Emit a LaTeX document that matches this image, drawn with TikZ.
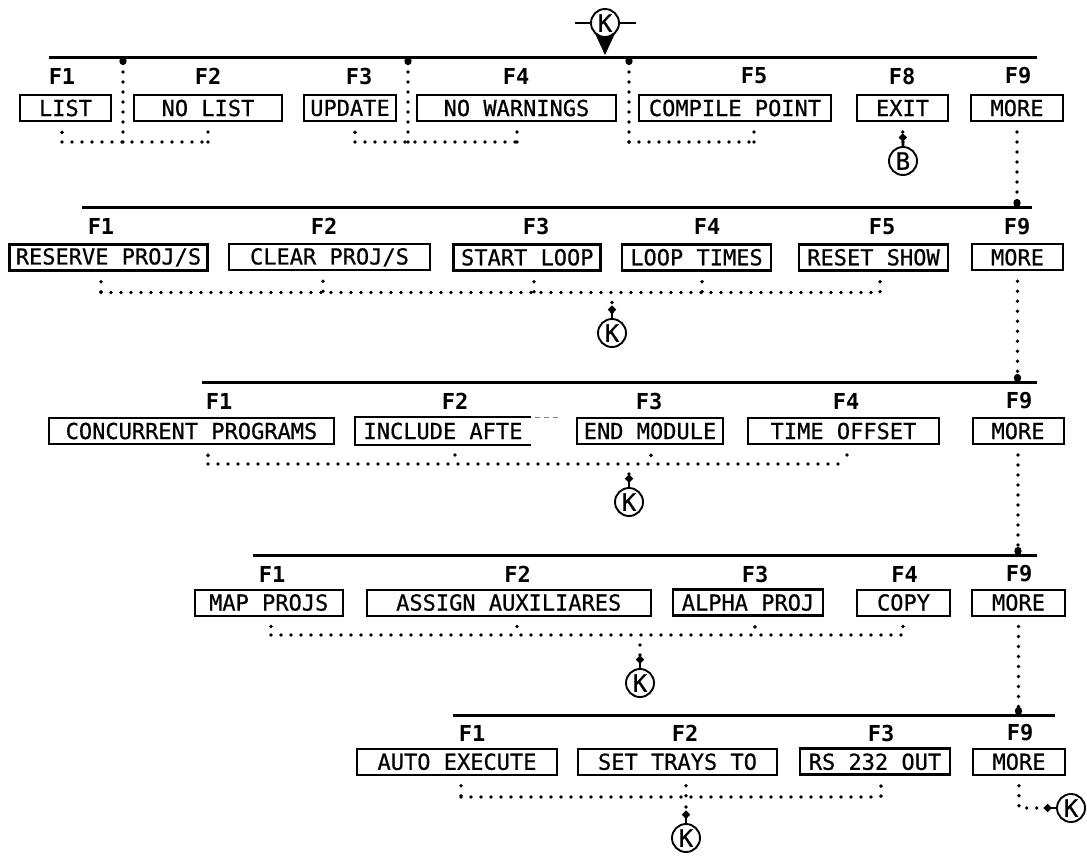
\documentclass[tikz,border=0pt]{standalone}
\usepackage{fontspec}
\newfontfamily\plotfont{DejaVu Sans Mono}
\newfontfamily\plotfontb[FakeBold=0.6]{DejaVu Sans Mono}
\usetikzlibrary{arrows.meta,calc}
\begin{document}
\begin{tikzpicture}[x=1pt,y=-1pt,
  bar/.style={line width=3pt},
  kbox/.style={draw, line width=2pt, minimum height=26pt, inner sep=0pt, font=\plotfontb\fontsize{22}{22}\selectfont},
  kboxb/.style={kbox, line width=2.7pt},
  boxline/.style={line width=2.7pt},
  flabel/.style={font=\plotfont\bfseries\fontsize{22}{22}\selectfont, inner sep=0pt},
  dots/.style={line width=3.8pt, line cap=round, dash pattern=on 0pt off 10pt},
  drop/.style={dots, shorten <=10pt},
  blob/.style={-{Circle[length=8pt,width=7pt]}},
  tack/.style={-{Circle[length=7pt,width=7pt]Rectangle[length=5pt,width=2.4pt]}},
  kc/.style={circle, draw, line width=1.9pt, minimum size=28pt, inner sep=0pt, fill=white, font=\plotfontb\fontsize{24}{24}\selectfont},
]
\useasboundingbox (0,0) rectangle (1087,855);
\fill[white] (0,0) rectangle (1087,855);

% ---------------- Row 1 ----------------
\coordinate (L1a) at (49,57); \coordinate (L1b) at (1037,57);
\draw[bar] (L1a) -- (L1b);
\fill (592,27) -- (605,55) -- (618,27) -- cycle;
\node[kc] (ktop) at (605,23) {K};
\draw[line width=2.2pt] (ktop.west) -- ++(-15,0);
\draw[line width=2.2pt] (ktop.east) -- ++(16,0);

\node[flabel] (f11) at (62,76) {F1};
\node[flabel] (f12) at (208,76) {F2};
\node[flabel] (f13) at (359,76) {F3};
\node[flabel] (f14) at (516,76) {F4};
\node[flabel] (f15) at (754,76) {F5};
\node[flabel] (f18) at (902,76) {F8};
\node[flabel] (f19) at (1018,76) {F9};

\node[kboxb, minimum width=91pt] (list) at (65.5,108) {LIST};
\node[kbox, minimum width=148pt] (nolist) at (208,108) {NO LIST};
\node[kboxb, minimum width=92pt] (update) at (350,108) {UPDATE};
\node[kbox, minimum width=199pt] (nowarn) at (516.5,108) {NO WARNINGS};
\node[kbox, minimum width=192pt] (compile) at (735,108) {COMPILE POINT};
\node[kbox, minimum width=91pt] (exit) at (902.5,108) {EXIT};
\node[kbox, minimum width=92pt] (more1) at (1017,108) {MORE};

\coordinate (j11) at (62,142); \coordinate (j12) at (208,142); \coordinate (j1v) at (123,142);
\coordinate (j13) at (355,142); \coordinate (j14) at (517,142); \coordinate (j1w) at (408,142);
\coordinate (j15) at (754,142); \coordinate (j1x) at (629,142);
\draw[drop] (list.south -| j11) -- (j11);
\draw[drop] (nolist.south -| j12) -- (j12);
\draw[dots] (j11) -- (j12);
\draw[dots, blob] (j1v) -- (j1v |- L1a);
\draw[drop] (update.south -| j13) -- (j13);
\draw[drop] (nowarn.south -| j14) -- (j14);
\draw[dots] (j13) -- (j14);
\draw[dots, blob] (j1w) -- (j1w |- L1a);
\draw[drop] (compile.south -| j15) -- (j15);
\draw[dots] (j1x) -- (j15);
\draw[dots, blob] (j1x) -- (j1x |- L1a);

\node[kc] (kb) at (903,161) {B};
\draw[drop, tack] (exit.south) -- (kb.north);

% ---------------- Row 2 ----------------
\coordinate (L2a) at (82,207); \coordinate (L2b) at (1032,207);
\draw[bar] (L2a) -- (L2b);
\draw[drop, blob] (more1.south) -- (more1.south |- L2a);

\node[flabel] (f21) at (101,226.5) {F1};
\node[flabel] (f22) at (324,226.5) {F2};
\node[flabel] (f23) at (536,226.5) {F3};
\node[flabel] (f24) at (707,226.5) {F4};
\node[flabel] (f25) at (882,226.5) {F5};
\node[flabel] (f29) at (1017,226.5) {F9};

\node[kboxb, minimum width=198pt] (rsv) at (108.5,257.3) {RESERVE PROJ/S};
\node[kbox, minimum width=201pt] (clr) at (329.5,257.3) {CLEAR PROJ/S};
\node[kboxb, minimum width=147pt] (start) at (527.3,257.3) {START LOOP};
\node[kboxb, minimum width=149pt] (loopt) at (696.5,257.3) {LOOP TIMES};
\node[kboxb, minimum width=149pt] (reset) at (873.5,257.3) {RESET SHOW};
\node[kbox, minimum width=91pt] (more2) at (1017.5,257.3) {MORE};

\coordinate (j21) at (101,292.5); \coordinate (j22) at (323,292.5); \coordinate (j23) at (534,292.5);
\coordinate (j24) at (702,292.5); \coordinate (j25) at (880,292.5); \coordinate (j2k) at (612,292.5);
\draw[drop] (rsv.south -| j21) -- (j21);
\draw[drop] (clr.south -| j22) -- (j22);
\draw[drop] (start.south -| j23) -- (j23);
\draw[drop] (loopt.south -| j24) -- (j24);
\draw[drop] (reset.south -| j25) -- (j25);
\draw[dots] (j21) -- (j25);
\node[kc] (k2) at (612,333) {K};
\draw[drop, tack] (j2k) -- (k2.north);

% ---------------- Row 3 ----------------
\coordinate (L3a) at (201.6,382); \coordinate (L3b) at (1037,382);
\draw[bar] (L3a) -- (L3b);
\draw[drop, blob] (more2.south) -- (more2.south |- L3a);

\node[flabel] (f31) at (219,401) {F1};
\node[flabel] (f32) at (455,401) {F2};
\node[flabel] (f33) at (649,401) {F3};
\node[flabel] (f34) at (846,401) {F4};
\node[flabel] (f39) at (1019,401) {F9};

\node[kboxb, minimum width=285pt] (conc) at (191.5,431) {CONCURRENT PROGRAMS};
\node[kbox, draw=none, minimum width=174pt] (incl) at (443,431) {INCLUDE AFTE};
\draw[boxline] (incl.north east) -- (incl.north west) -- (incl.south west) -- (incl.south east);
\draw[line width=1pt, gray, dash pattern=on 5pt off 4pt] ([xshift=4pt]incl.north east) -- ++(26,0);
\node[kboxb, minimum width=146pt] (endm) at (650,431) {END MODULE};
\node[kbox, minimum width=191pt] (time) at (843.5,431) {TIME OFFSET};
\node[kbox, minimum width=91pt] (more3) at (1018,431) {MORE};

\coordinate (j31) at (208,464); \coordinate (j32) at (455,464); \coordinate (j33) at (651,464);
\coordinate (j34) at (847,464); \coordinate (j3k) at (629,464);
\draw[drop] (conc.south -| j31) -- (j31);
\draw[drop] (incl.south -| j32) -- (j32);
\draw[drop] (endm.south -| j33) -- (j33);
\draw[drop] (time.south -| j34) -- (j34);
\draw[dots] (j31) -- (j34);
\node[kc] (k3) at (629,502) {K};
\draw[drop, tack] (j3k) -- (k3.north);

% ---------------- Row 4 ----------------
\coordinate (L4a) at (252.5,555); \coordinate (L4b) at (1037,555);
\draw[bar] (L4a) -- (L4b);
\draw[drop, blob] (more3.south) -- (more3.south |- L4a);

\node[flabel] (f41) at (272,574) {F1};
\node[flabel] (f42) at (517.5,574) {F2};
\node[flabel] (f43) at (755,574) {F3};
\node[flabel] (f44) at (904.5,574) {F4};
\node[flabel] (f49) at (1019,574) {F9};

\node[kbox, minimum width=148.5pt] (map) at (268.75,602.5) {MAP PROJS};
\node[kbox, minimum width=283.5pt] (assign) at (508.75,602.5) {ASSIGN AUXILIARES};
\node[kboxb, minimum width=150pt] (alpha) at (748,602.5) {ALPHA PROJ};
\node[kbox, minimum width=93pt] (copy) at (903.5,602.5) {COPY};
\node[kbox, minimum width=93pt] (more4) at (1018.5,602.5) {MORE};

\coordinate (j41) at (271,635); \coordinate (j42) at (517,635); \coordinate (j43) at (755,635);
\coordinate (j44) at (903,635); \coordinate (j4k) at (640,635);
\draw[drop] (map.south -| j41) -- (j41);
\draw[drop] (assign.south -| j42) -- (j42);
\draw[drop] (alpha.south -| j43) -- (j43);
\draw[drop] (copy.south -| j44) -- (j44);
\draw[dots] (j41) -- (j44);
\node[kc] (k4) at (640,683) {K};
\draw[drop, tack] (j4k) -- (k4.north);

% ---------------- Row 5 ----------------
\coordinate (L5a) at (452.7,715); \coordinate (L5b) at (1055,715);
\draw[bar] (L5a) -- (L5b);
\draw[drop, blob] (more4.south) -- (more4.south |- L5a);

\node[flabel] (f51) at (472,733) {F1};
\node[flabel] (f52) at (685,733) {F2};
\node[flabel] (f53) at (881,733) {F3};
\node[flabel] (f59) at (1020,733) {F9};

\node[kbox, minimum width=200pt] (auto) at (457,761.75) {AUTO EXECUTE};
\node[kbox, minimum width=199pt] (settr) at (677.5,761.75) {SET TRAYS TO};
\node[kboxb, minimum width=150pt] (rs) at (875,761.75) {RS 232 OUT};
\node[kbox, minimum width=92pt] (more5) at (1019,761.75) {MORE};

\coordinate (j51) at (461,797); \coordinate (j52) at (686,797); \coordinate (j53) at (881,797);
\draw[drop] (auto.south -| j51) -- (j51);
\draw[drop] (settr.south -| j52) -- (j52);
\draw[drop] (rs.south -| j53) -- (j53);
\draw[dots] (j51) -- (j53);
\node[kc] (k5) at (686,838) {K};
\draw[drop, tack] (j52) -- (k5.north);

\node[kc] (k6) at (1071,808) {K};
\draw[drop, tack] (more5.south) |- (k6.west);
\end{tikzpicture}
\end{document}
